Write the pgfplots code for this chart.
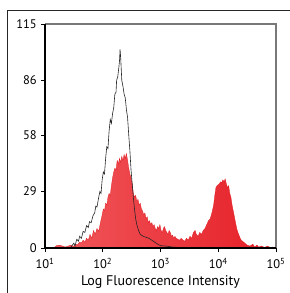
\documentclass[border=0pt]{standalone}
\usepackage{fontspec}
\setmainfont{PT Sans}
\usepackage{pgfplots}
\usepackage{pgfplotstable}
\pgfplotsset{compat=1.18}
\definecolor{redL}{RGB}{240,88,92}
\definecolor{redR}{RGB}{230,30,38}
\definecolor{redE}{RGB}{225,30,35}
\definecolor{framegray}{RGB}{120,120,120}

\pgfplotstableread{
lx val
1.15 0
1.20 1.2
1.25 1.5
1.30 1.0
1.35 0.5
1.40 1.0
1.45 1.5
1.50 0.8
1.53 2.0
1.56 1.5
1.60 3
1.63 2.5
1.66 4
1.69 3
1.72 5
1.75 4
1.78 7
1.81 5
1.84 9
1.87 7
1.90 10
1.93 8.5
1.96 13
1.99 17
2.01 20
2.03 19
2.05 23
2.07 22
2.09 26
2.11 28
2.13 27
2.15 32
2.17 36
2.19 39
2.21 41
2.23 40
2.25 45
2.27 43
2.29 46
2.31 44
2.33 47
2.35 45
2.37 48
2.39 46
2.41 48.5
2.43 45
2.45 41
2.47 38
2.49 36
2.51 33
2.53 28
2.55 26
2.57 27
2.59 24
2.61 25
2.63 22
2.65 23
2.67 20
2.69 19
2.71 17
2.73 18
2.75 15
2.77 16
2.79 13
2.81 14
2.83 12
2.85 13
2.87 11
2.89 12
2.91 10
2.93 9
2.95 11
2.97 10
2.99 12
3.01 9
3.03 8
3.05 10
3.07 11
3.09 9
3.11 8
3.13 7
3.15 9
3.17 8
3.19 6
3.21 6.5
3.23 5
3.25 6
3.27 5
3.30 4.5
3.33 4
3.36 5
3.39 4
3.42 3.5
3.45 5
3.48 4
3.51 6
3.54 5
3.57 8
3.60 9
3.62 7
3.65 6
3.68 8
3.71 7
3.74 9
3.77 10
3.80 12
3.83 14
3.86 15
3.89 18
3.92 22
3.94 27
3.96 31
3.98 32
4.00 32.5
4.02 33
4.04 34
4.06 33.5
4.08 35
4.10 34
4.12 35.5
4.14 33
4.16 31
4.18 32
4.20 28
4.22 26
4.24 22
4.26 19
4.28 16
4.30 13
4.32 10
4.34 8
4.36 6.5
4.38 5
4.40 4
4.42 3.5
4.44 3
4.46 2.5
4.48 2
4.50 1.5
4.55 1
4.60 2
4.63 0.5
4.67 1.5
4.70 0.5
4.75 1
4.80 0.3
4.85 1
4.90 0.3
4.95 0.5
5.00 0
}\redtab

\pgfplotstableread{
lx val
1.40 0
1.45 0.5
1.50 2.5
1.52 1.0
1.55 4.5
1.58 3.5
1.60 6
1.63 5
1.66 8.5
1.69 8
1.72 11.5
1.75 10.5
1.77 13.5
1.80 13
1.83 16.5
1.86 18
1.88 21.5
1.90 21
1.93 26
1.95 29
1.97 28
1.99 35
2.01 39
2.03 38
2.05 46
2.07 52
2.09 51
2.11 60
2.13 66
2.15 64
2.17 69
2.19 72
2.21 79
2.23 80
2.24 86
2.26 88
2.28 93
2.29 96
2.30 102
2.31 98
2.33 86
2.35 83
2.37 79
2.39 77
2.41 71
2.43 67
2.45 58
2.47 50
2.49 40
2.51 33
2.53 26
2.55 20
2.57 15
2.59 12
2.62 9
2.65 7
2.70 6
2.75 5.5
2.80 5
2.85 4
2.90 3
2.95 2
3.00 1.2
3.10 1
3.20 0.5
3.30 0.3
3.40 0
}\blacktab

\begin{document}
\fontsize{12}{14}\selectfont
\begin{tikzpicture}
\useasboundingbox (-45pt,-45pt) rectangle (245pt,248pt);
\draw[line width=0.9pt, black!85] (-38pt,-46pt) -- (-38pt,238pt) -- (246pt,238pt);
\begin{axis}[
  at={(0,0)}, anchor=south west,
  scale only axis, width=231pt, height=224pt,
  xmode=log, log basis x=10,
  xmin=10, xmax=100000, ymin=0, ymax=115,
  axis line style={draw=none},
  xtick={10,100,1000,10000,100000},
  xticklabels={10\textsuperscript{1},10\textsuperscript{2},10\textsuperscript{3},10\textsuperscript{4},10\textsuperscript{5}},
  ytick={0,29,58,86,115},
  yticklabels={0,29,58,86,115},
  minor y tick num=2,
  xtick pos=bottom, ytick pos=left,
  tick align=outside,
  major tick length=4pt, minor tick length=2.5pt,
  every tick/.style={black, line width=0.6pt},
  tick label style={font=\fontsize{12.5}{14}\selectfont},
  xticklabel style={yshift=-2pt},
  xlabel={Log Fluorescence Intensity},
  xlabel style={font=\fontsize{14}{16}\selectfont, at={(axis description cs:0.5,0)}, anchor=center, yshift=-34pt},
  clip=true,
]
\addplot[draw=redE, line width=0.3pt, left color=redL, right color=redR] table[x expr={10^(\thisrow{lx})}, y=val] {\redtab} \closedcycle;
\addplot[black!85, line width=0.6pt] table[x expr={10^(\thisrow{lx})}, y=val] {\blacktab};
\end{axis}
\draw[line width=1.4pt, framegray] (0pt,224pt) -- (231pt,224pt) -- (231pt,0pt);
\draw[line width=1.4pt, black] (0pt,224pt) -- (0pt,0pt) -- (231pt,0pt);
\end{tikzpicture}
\end{document}
